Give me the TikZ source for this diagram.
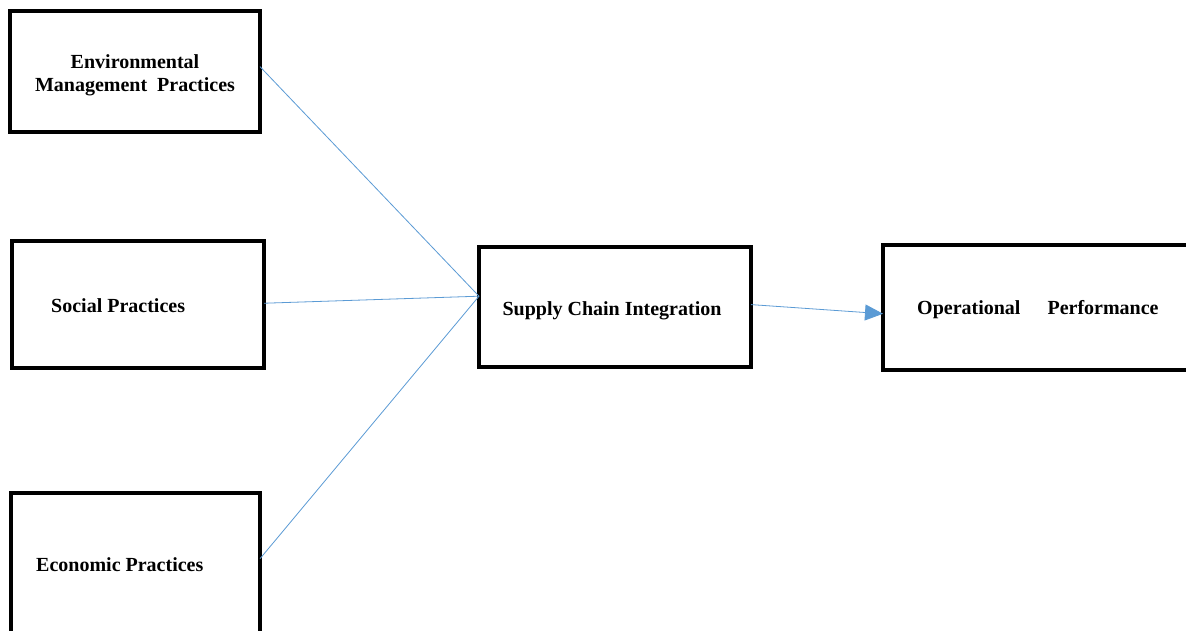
\documentclass[tikz,border=0pt]{standalone}
\usepackage{fontspec}
\setmainfont{Liberation Serif}
\usetikzlibrary{arrows.meta,calc}
\definecolor{linkblue}{HTML}{5B9BD5}
\begin{document}
\begin{tikzpicture}[x=1pt,y=-1pt,
  box/.style={draw=black, line width=3.4pt, rectangle, inner sep=0pt, outer sep=0pt},
  lbl/.style={font=\bfseries\fontsize{20}{23}\selectfont, inner sep=0pt, align=center},
  link/.style={draw=linkblue, line width=0.8pt}]
\useasboundingbox[fill=white] (0,0) rectangle (1186,631);
% boxes
\node[box, minimum width=250pt, minimum height=121pt] (env) at (135,71.5) {};
\node[box, minimum width=252pt, minimum height=127pt] (soc) at (138,304.5) {};
\node[box, minimum width=249pt, minimum height=146pt] (eco) at (135.5,566) {};
\node[box, minimum width=272pt, minimum height=120pt] (sci) at (615,307) {};
\node[box, minimum width=314pt, minimum height=125pt] (op) at (1040,307.5) {};
% labels
\node[lbl] (envt) at (135,75.5) {Environmental\\Management\ \ Practices};
\node[lbl, anchor=west] (soct) at (51,306) {Social Practices};
\node[lbl, anchor=west] (ecot) at (36,565) {Economic Practices};
\node[lbl] (scit) at (612,311) {Supply Chain Integration};
\node[lbl, anchor=west] (opt) at (917,310) {Operational\hspace{27pt}Performance};
% connector anchor points
\coordinate (envo) at ($(env.north east)!0.46!(env.south east)$);
\coordinate (soco) at ($(soc.north east)!0.49!(soc.south east)$);
\coordinate (ecoo) at ($(eco.north east)!0.45!(eco.south east)$);
\coordinate (scii) at ($(sci.north west)!0.41!(sci.south west)$);
\coordinate (scio) at ($(sci.north east)!0.48!(sci.south east)$);
\coordinate (opi) at ($(op.north west)!0.55!(op.south west)$);
\draw[link] (envo) -- (scii);
\draw[link] (soco) -- (scii);
\draw[link] (ecoo) -- (scii);
\draw[link, -{Triangle[length=18pt,width=16pt]}] (scio) -- (opi);
\end{tikzpicture}
\end{document}
